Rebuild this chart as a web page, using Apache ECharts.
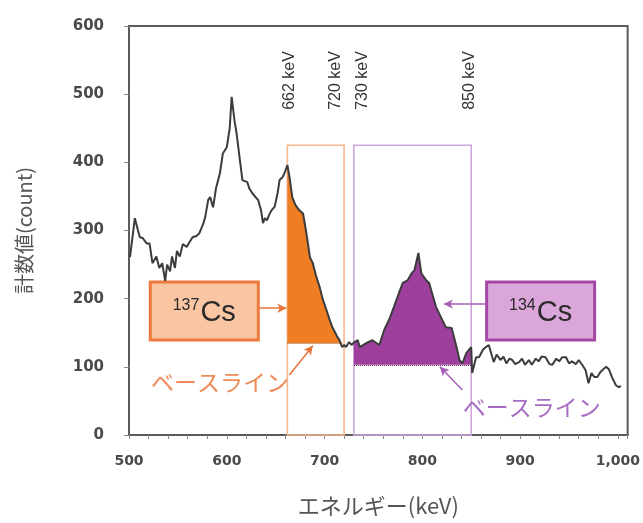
<!DOCTYPE html>
<html>
<head>
<meta charset="utf-8">
<script src="https://cdn.jsdelivr.net/npm/echarts@6/dist/echarts.min.js"></script>
<style>
  html, body { margin: 0; padding: 0; background: #ffffff; }
  #chart { width: 643px; height: 523px; }
</style>
</head>
<body>
<div id="chart"></div>
<script>
// Gamma-ray spectrum (energy in keV, counts per channel)
const energyKeV = [
  501, 506, 511, 514, 518, 521, 524, 528, 531, 534, 537, 539, 542, 544, 547, 549,
  552, 555, 559, 562, 565, 569, 572, 576, 578, 581, 583, 586, 589, 593, 596, 600,
  603, 605, 608, 610, 613, 616, 618, 621, 623, 626, 630, 632, 635, 637, 639, 641,
  644, 646, 649, 652, 654, 657, 659, 662, 664, 667, 670, 674, 678, 681, 683, 685,
  688, 691, 695, 698, 702, 705, 708, 711, 713, 715, 718, 720, 722, 725, 728, 730,
  734, 736, 743, 749, 756, 761, 766, 771, 776, 780, 785, 789, 792, 796, 799, 804,
  807, 810, 814, 819, 824, 830, 835, 838, 841, 845, 850, 851, 855, 858, 862, 865,
  868, 870, 873, 876, 880, 883, 886, 889, 892, 895, 899, 902, 905, 909, 912, 916,
  919, 922, 926, 930, 933, 937, 940, 943, 947, 950, 953, 957, 960, 964, 967, 970,
  973, 976, 979, 982, 984, 988, 991, 993, 994, 998, 1001, 1003
];
const counts = [
  261, 318, 290, 289, 281, 281, 252, 262, 245, 252, 226, 250, 240, 262, 245, 270,
  262, 280, 276, 283, 290, 292, 296, 310, 320, 345, 349, 334, 362, 384, 413, 422,
  450, 496, 460, 443, 408, 374, 373, 371, 362, 355, 348, 345, 330, 311, 318, 315,
  325, 330, 335, 355, 374, 378, 384, 396, 380, 349, 338, 330, 325, 300, 281, 261,
  252, 235, 217, 200, 183, 170, 158, 150, 144, 140, 129, 132, 129, 136, 132, 136,
  139, 129, 135, 139, 132, 154, 169, 188, 208, 223, 227, 237, 242, 267, 237, 227,
  223, 208, 188, 173, 158, 157, 129, 110, 105, 120, 129, 91, 114, 114, 125, 129,
  132, 132, 107, 118, 110, 115, 105, 112, 110, 104, 107, 112, 103, 110, 103, 112,
  108, 115, 114, 104, 103, 112, 108, 114, 114, 105, 108, 104, 110, 102, 95, 76,
  91, 85, 85, 92, 95, 100, 96, 98, 85, 73, 70, 72
];

// Axis ticks
const xTickValues = [500, 600, 700, 800, 900, 1000];
const xTickLabels = ['500', '600', '700', '800', '900', '1,000'];
const yTickValues = [0, 100, 200, 300, 400, 500, 600];

// Counting windows and their baselines
const cs137Window = [662, 720];
const cs134Window = [730, 850];
const cs137Baseline = 135;
const cs134Baseline = 103;
const windowTop = 425;
const windowEdges = [662, 720, 730, 850];
const windowEdgeLabels = ['662 keV', '720 keV', '730 keV', '850 keV'];

const ORANGE = '#ef7d22';
const PURPLE = '#9e3f9e';

function windowFill(range, base) {
  const out = [];
  energyKeV.forEach((e, i) => {
    if (e >= range[0] && e <= range[1]) out.push([e, Math.max(counts[i], base)]);
  });
  return out;
}

const spectrum = energyKeV.map((e, i) => [e, counts[i]]);

const chart = echarts.init(document.getElementById('chart'), null, { renderer: 'canvas' });

const arrowLine = (color) => ({
  silent: true,
  symbol: ['none', 'arrow'],
  symbolSize: [7, 9],
  label: { show: false },
  lineStyle: { color: color, width: 1.5, type: 'solid' },
  emphasis: { disabled: true }
});

const option = {
  animation: false,
  backgroundColor: '#ffffff',
  grid: {
    left: 129, right: 14, top: 26, bottom: 88,
    show: true, borderColor: '#5b5b5b', borderWidth: 2, backgroundColor: 'transparent'
  },
  xAxis: {
    type: 'value',
    min: 500, max: 1010, interval: 20,
    name: 'エネルギー(keV)',
    nameLocation: 'middle',
    nameGap: 60,
    nameTextStyle: { fontFamily: 'Noto Sans CJK JP', fontSize: 22, color: '#555555' },
    axisLine: { show: true, onZero: false, lineStyle: { color: '#5b5b5b', width: 2 } },
    axisTick: { show: true, inside: false, length: 4, lineStyle: { color: '#888888', width: 1 } },
    axisLabel: {
      interval: 0,
      margin: 19,
      fontFamily: 'DejaVu Sans', fontWeight: 'bold', fontSize: 14, color: '#4a4a4a',
      formatter: (v) => {
        const i = xTickValues.indexOf(v);
        return i >= 0 ? xTickLabels[i] : '';
      }
    },
    splitLine: { show: false }
  },
  yAxis: {
    type: 'value',
    min: 0, max: 600, interval: 100,
    name: '計数値(count)',
    nameLocation: 'middle',
    nameGap: 95,
    nameTextStyle: { fontFamily: 'Noto Sans CJK JP', fontSize: 20, color: '#555555' },
    axisLine: { show: true, lineStyle: { color: '#5b5b5b', width: 2 } },
    axisTick: { show: true, inside: false, length: 5, lineStyle: { color: '#888888', width: 1 } },
    axisLabel: {
      margin: 25,
      fontFamily: 'DejaVu Sans', fontWeight: 'bold', fontSize: 15, color: '#4a4a4a',
      formatter: (v) => (yTickValues.indexOf(v) >= 0 ? String(v) : '')
    },
    splitLine: { show: false }
  },
  series: [
    {
      name: '137Cs window',
      type: 'line',
      data: windowFill(cs137Window, cs137Baseline),
      symbol: 'none',
      lineStyle: { width: 0 },
      areaStyle: { color: ORANGE, opacity: 1, origin: cs137Baseline },
      z: 3,
      markArea: {
        silent: true,
        itemStyle: { color: 'rgba(0,0,0,0)', borderColor: '#f5b88e', borderWidth: 1.6 },
        data: [[{ xAxis: cs137Window[0], yAxis: 0 }, { xAxis: cs137Window[1], yAxis: windowTop }]]
      },
      markLine: Object.assign(arrowLine('#e8743b'), {
        data: [
          [{ coord: [632, 186] }, { coord: [661, 186] }],
          [{ coord: [664, 88] }, { coord: [688, 131] }]
        ]
      })
    },
    {
      name: '134Cs window',
      type: 'line',
      data: windowFill(cs134Window, cs134Baseline),
      symbol: 'none',
      lineStyle: { width: 0 },
      areaStyle: { color: PURPLE, opacity: 1, origin: cs134Baseline },
      z: 3,
      markArea: {
        silent: true,
        itemStyle: { color: 'rgba(0,0,0,0)', borderColor: '#cfa6dc', borderWidth: 1.6 },
        data: [[{ xAxis: cs134Window[0], yAxis: 0 }, { xAxis: cs134Window[1], yAxis: windowTop }]]
      },
      markLine: Object.assign(arrowLine('#a75fb8'), {
        data: [
          [{ coord: [865, 192] }, { coord: [822, 192] }],
          [{ coord: [841, 66] }, { coord: [818, 100] }]
        ]
      })
    },
    {
      name: 'baselines',
      type: 'line',
      data: [],
      markLine: {
        silent: true,
        symbol: 'none',
        label: { show: false },
        lineStyle: { width: 1, type: 'dotted' },
        data: [
          [{ coord: [cs137Window[0], cs137Baseline], lineStyle: { color: '#8a4a1e' } },
           { coord: [718, cs137Baseline] }],
          [{ coord: [cs134Window[0], cs134Baseline], lineStyle: { color: '#4f1f4f' } },
           { coord: [cs134Window[1], cs134Baseline] }]
        ]
      }
    },
    {
      name: 'spectrum',
      type: 'line',
      data: spectrum,
      symbol: 'none',
      lineStyle: { color: '#3c3c3c', width: 2 },
      z: 5
    }
  ]
};

chart.setOption(option);

// Text annotations placed through the chart's own coordinate conversion
const px = (x, y) => chart.convertToPixel({ gridIndex: 0 }, [x, y]);
const edgeLabelShift = [2, -9, 9, -2];
const edgeLabelBase = 477;

const graphics = [];
windowEdges.forEach((e, i) => {
  const p = px(e, edgeLabelBase);
  graphics.push({
    type: 'text',
    x: p[0] + edgeLabelShift[i], y: p[1],
    rotation: Math.PI / 2,
    style: {
      text: windowEdgeLabels[i],
      font: '16px "Liberation Sans", Arial, sans-serif',
      fill: '#333333',
      align: 'left', verticalAlign: 'middle'
    },
    z: 10
  });
});

function isotopeBox(center, mass, fill, stroke) {
  const c = px(center[0], center[1]);
  const w = 108, h = 58;
  return {
    type: 'group',
    x: c[0], y: c[1],
    z: 10,
    children: [
      {
        type: 'rect',
        shape: { x: -w / 2, y: -h / 2, width: w, height: h },
        style: { fill: fill, stroke: stroke, lineWidth: 3 }
      },
      {
        type: 'text',
        x: 0, y: 2,
        style: {
          rich: {
            sup: { font: '16px "Liberation Sans", Arial, sans-serif', fill: '#2a2a2a', verticalAlign: 'top', padding: [0, 1, 14, 0] },
            el: { font: '29px "Liberation Sans", Arial, sans-serif', fill: '#2a2a2a', verticalAlign: 'bottom' }
          },
          text: '{sup|' + mass + '}{el|Cs}',
          align: 'center', verticalAlign: 'middle'
        }
      }
    ]
  };
}

graphics.push(isotopeBox([577, 182], '137', '#f9c5a3', '#eb7a3c'));
graphics.push(isotopeBox([921, 182], '134', '#dba6da', '#a548a5'));

function baselineText(at, color) {
  const p = px(at[0], at[1]);
  return {
    type: 'text',
    x: p[0], y: p[1],
    z: 10,
    style: {
      text: 'ベースライン',
      font: '23px "Noto Sans CJK JP"',
      fill: color,
      align: 'center', verticalAlign: 'middle'
    }
  };
}
graphics.push(baselineText([593, 78], '#ee8b58'));
graphics.push(baselineText([912, 41], '#a86cc4'));

chart.setOption({ graphic: graphics });
</script>
</body>
</html>
